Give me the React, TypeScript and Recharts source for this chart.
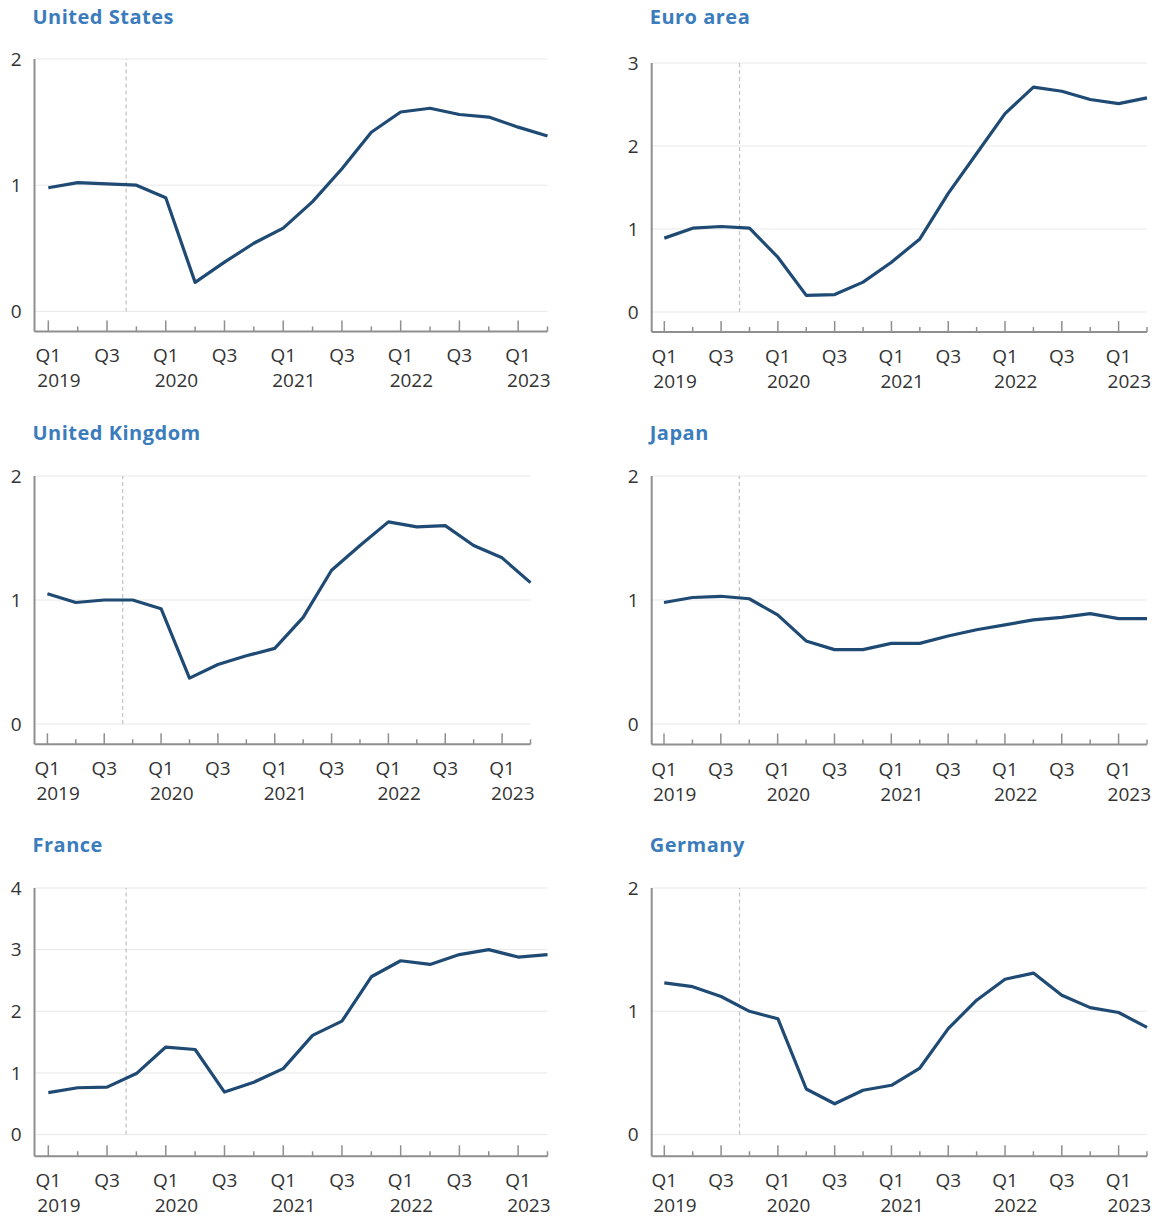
import React from 'react';
import { LineChart, Line, XAxis, YAxis, CartesianGrid, ReferenceLine } from 'recharts';

// quarters shown on every panel
const periods = [
  '2019 Q1', '2019 Q2', '2019 Q3', '2019 Q4',
  '2020 Q1', '2020 Q2', '2020 Q3', '2020 Q4',
  '2021 Q1', '2021 Q2', '2021 Q3', '2021 Q4',
  '2022 Q1', '2022 Q2', '2022 Q3', '2022 Q4',
  '2023 Q1', '2023 Q2',
];

const usValues = [0.98, 1.02, 1.01, 1.0, 0.9, 0.23, 0.39, 0.54, 0.66, 0.87, 1.13, 1.42, 1.58, 1.61, 1.56, 1.54, 1.46, 1.39];
const euroValues = [0.89, 1.01, 1.03, 1.01, 0.66, 0.2, 0.21, 0.36, 0.6, 0.88, 1.43, 1.91, 2.39, 2.71, 2.66, 2.56, 2.51, 2.58];
const ukValues = [1.05, 0.98, 1.0, 1.0, 0.93, 0.37, 0.48, 0.55, 0.61, 0.86, 1.24, 1.44, 1.63, 1.59, 1.6, 1.44, 1.34, 1.14];
const japanValues = [0.98, 1.02, 1.03, 1.01, 0.88, 0.67, 0.6, 0.6, 0.65, 0.65, 0.71, 0.76, 0.8, 0.84, 0.86, 0.89, 0.85, 0.85];
const franceValues = [0.68, 0.76, 0.77, 0.99, 1.42, 1.38, 0.69, 0.85, 1.07, 1.61, 1.84, 2.56, 2.82, 2.76, 2.92, 3.0, 2.88, 2.92];
const germanyValues = [1.23, 1.2, 1.12, 1.0, 0.94, 0.37, 0.25, 0.36, 0.4, 0.54, 0.86, 1.09, 1.26, 1.31, 1.13, 1.03, 0.99, 0.87];

const ticksTo2 = [0, 1, 2];
const ticksTo3 = [0, 1, 2, 3];
const ticksTo4 = [0, 1, 2, 3, 4];

// dashed marker, in quarters from 2019 Q1
const markerAt = 2.65;

const FONT = '"Open Sans", sans-serif';
const LINE = '#1f4a74';
const AXIS = '#8f8f8f';
const TEXT = '#333333';
const TITLE = '#3b7cbc';

const rows = periods.map((p, i) => ({
  i,
  us: usValues[i],
  euro: euroValues[i],
  uk: ukValues[i],
  japan: japanValues[i],
  france: franceValues[i],
  germany: germanyValues[i],
}));

interface PanelSpec {
  key: string;
  title: string;
  ticks: number[];
  left: number;
  axisX: number;
  firstX: number;
  lastX: number;
  top: number;
  zeroY: number;
  axisY: number;
  titleY: number;
}

const panels: PanelSpec[] = [
  { key: 'us', title: 'United States', ticks: ticksTo2, left: 0, axisX: 34.5, firstX: 48.3, lastX: 547.5, top: 59.3, zeroY: 311.7, axisY: 331.7, titleY: 24 },
  { key: 'euro', title: 'Euro area', ticks: ticksTo3, left: 580, axisX: 651.7, firstX: 664.3, lastX: 1147, top: 62.7, zeroY: 311.7, axisY: 331.7, titleY: 24 },
  { key: 'uk', title: 'United Kingdom', ticks: ticksTo2, left: 0, axisX: 34.5, firstX: 47.4, lastX: 530.5, top: 476, zeroY: 724, axisY: 744.3, titleY: 440 },
  { key: 'japan', title: 'Japan', ticks: ticksTo2, left: 580, axisX: 651.7, firstX: 664, lastX: 1147, top: 476, zeroY: 724, axisY: 744.5, titleY: 440 },
  { key: 'france', title: 'France', ticks: ticksTo4, left: 0, axisX: 34.5, firstX: 48.3, lastX: 547.5, top: 887.7, zeroY: 1134.3, axisY: 1156, titleY: 852 },
  { key: 'germany', title: 'Germany', ticks: ticksTo2, left: 580, axisX: 651.7, firstX: 664.3, lastX: 1147, top: 887.7, zeroY: 1134.3, axisY: 1156, titleY: 852 },
];

const QuarterTick = (props: any) => {
  const { x, y, payload } = props;
  const [year, q] = periods[payload.value].split(' ');
  const major = q === 'Q1' || q === 'Q3';
  return (
    <g>
      <line x1={x} x2={x} y1={y} y2={y - (major ? 11 : 5)} stroke={AXIS} strokeWidth={1.5} />
      {major && (
        <text x={x} y={y + 31} textAnchor="middle" fontSize={19} fontFamily={FONT} fill={TEXT}>
          {q}
        </text>
      )}
      {q === 'Q1' && (
        <text x={x - 11} y={y + 56} textAnchor="start" fontSize={19} fontFamily={FONT} fill={TEXT}>
          {year}
        </text>
      )}
    </g>
  );
};

const Panel = ({ spec }: { spec: PanelSpec }) => {
  const mTop = 20;
  const mRight = 16;
  const xH = 70;
  const max = spec.ticks[spec.ticks.length - 1];
  const width = spec.lastX - spec.left + mRight;
  const height = mTop + (spec.axisY - spec.top) + xH;
  const min = (-max * (spec.axisY - spec.zeroY)) / (spec.zeroY - spec.top);

  return (
    <>
      <div
        style={{
          position: 'absolute',
          left: spec.axisX - 2,
          top: spec.titleY - 17.5,
          fontFamily: FONT,
          fontWeight: 700,
          fontSize: 20,
          letterSpacing: 0.5,
          lineHeight: '20px',
          color: TITLE,
          whiteSpace: 'nowrap',
        }}
      >
        {spec.title}
      </div>
      <div style={{ position: 'absolute', left: spec.left, top: spec.top - mTop }}>
        <LineChart width={width} height={height} data={rows} margin={{ top: mTop, right: mRight, left: 0, bottom: 0 }}>
          <CartesianGrid vertical={false} stroke="#e8e8e8" />
          <XAxis
            dataKey="i"
            type="number"
            domain={[0, periods.length - 1]}
            ticks={rows.map((r) => r.i)}
            interval={0}
            padding={{ left: spec.firstX - spec.axisX, right: 0 }}
            height={xH}
            axisLine={{ stroke: AXIS, strokeWidth: 2 }}
            tickLine={false}
            tickSize={0}
            tickMargin={0}
            tick={<QuarterTick />}
          />
          <YAxis
            type="number"
            domain={[min, max]}
            ticks={spec.ticks}
            interval={0}
            width={spec.axisX - spec.left}
            axisLine={{ stroke: AXIS, strokeWidth: 2 }}
            tickLine={false}
            tickSize={0}
            tickMargin={13}
            tick={{ fontSize: 19, fontFamily: FONT, fill: TEXT }}
          />
          <ReferenceLine
            segment={[
              { x: markerAt, y: 0 },
              { x: markerAt, y: max },
            ]}
            stroke="#c2c2c2"
            strokeWidth={1.2}
            strokeDasharray="4 3"
          />
          <Line
            dataKey={spec.key}
            type="linear"
            stroke={LINE}
            strokeWidth={3.2}
            strokeLinejoin="round"
            dot={false}
            activeDot={false}
            isAnimationActive={false}
          />
        </LineChart>
      </div>
    </>
  );
};

export default function App() {
  return (
    <div style={{ position: 'absolute', left: 0, top: 0, width: 1167, height: 1219, background: '#fff' }}>
      {panels.map((p) => (
        <Panel key={p.key} spec={p} />
      ))}
    </div>
  );
}
